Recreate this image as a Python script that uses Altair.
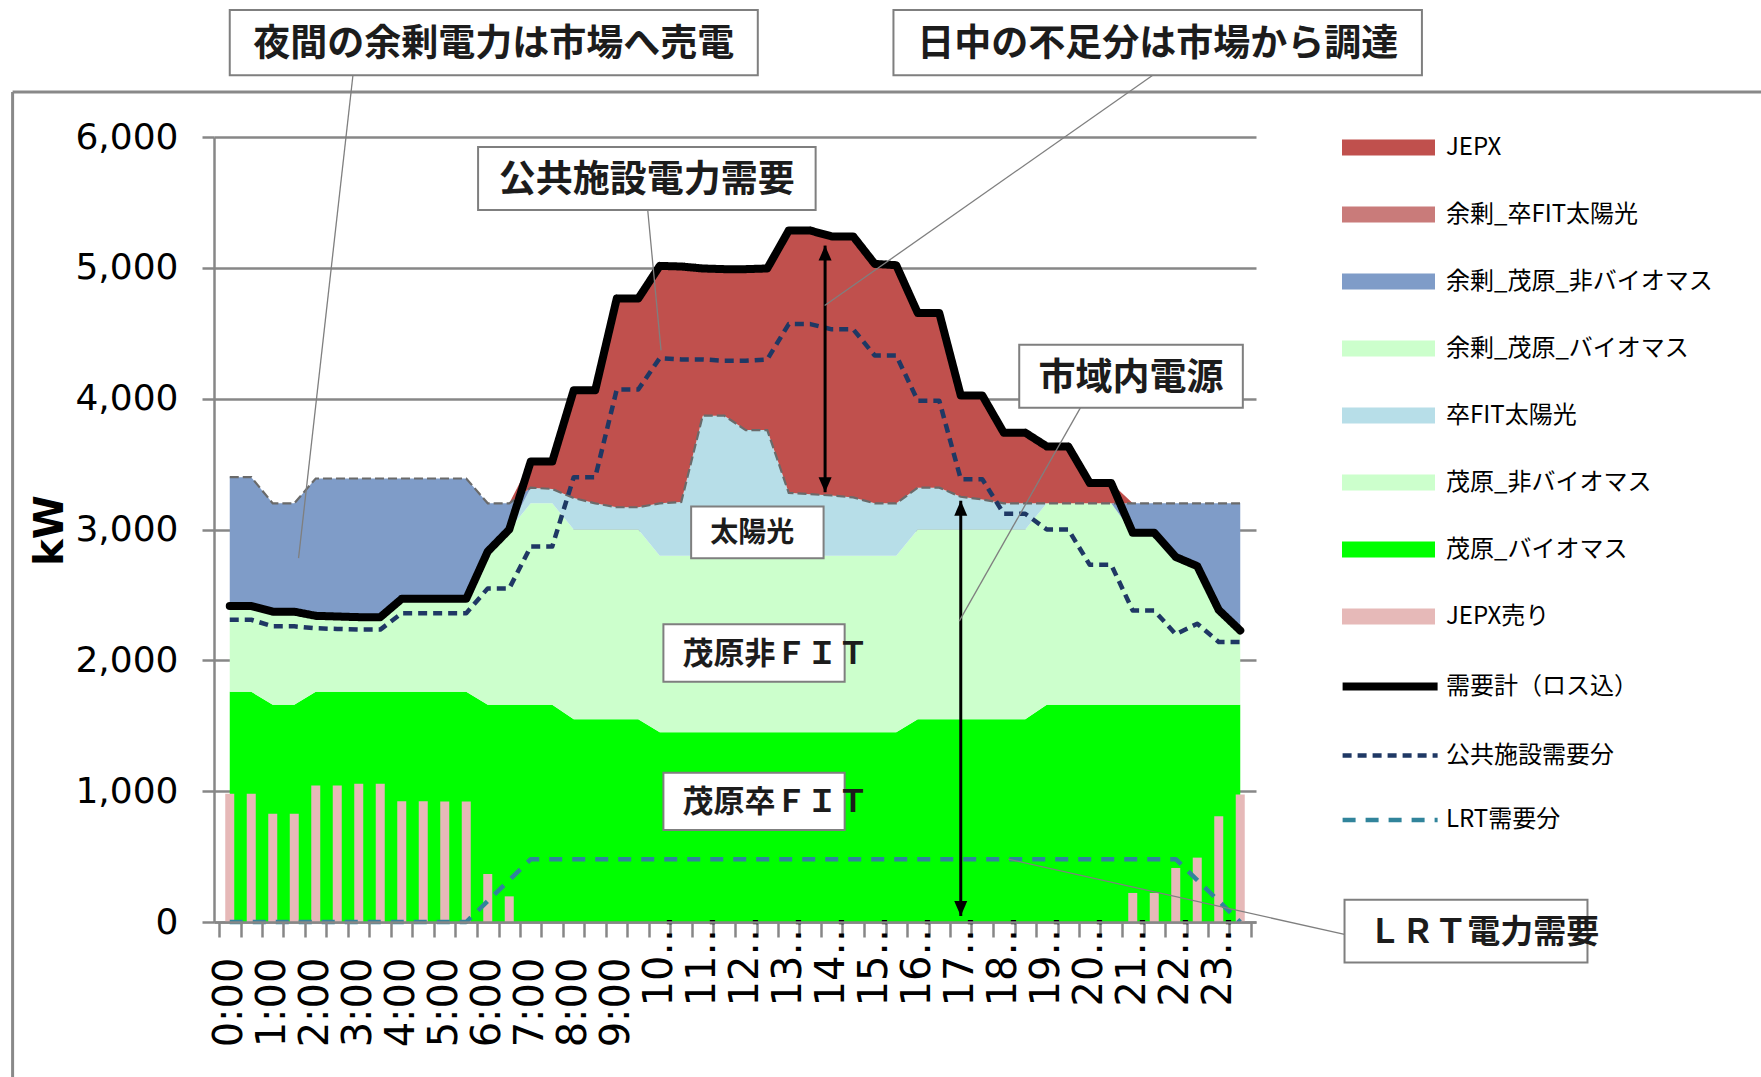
import json
import altair as alt
import pandas as pd

# ---------------- values ----------------
slot_index = list(range(48))  # 30-minute slots 0:00 ... 23:30
hour_labels = ["0:00", "1:00", "2:00", "3:00", "4:00", "5:00", "6:00", "7:00", "8:00", "9:00",
               "10…", "11…", "12…", "13…", "14…", "15…", "16…", "17…", "18…", "19…",
               "20…", "21…", "22…", "23…"]

mobara_bio = [1760, 1760, 1660, 1660, 1760, 1760, 1760, 1760, 1760, 1760, 1760, 1760,
              1660, 1660, 1660, 1660, 1550, 1550, 1550, 1550, 1450, 1450, 1450, 1450,
              1450, 1450, 1450, 1450, 1450, 1450, 1450, 1450, 1550, 1550, 1550, 1550,
              1550, 1550, 1660, 1660, 1660, 1660, 1660, 1660, 1660, 1660, 1660, 1660]
mobara_nonbio = [655, 655, 712, 712, 580, 575, 570, 570, 710, 710, 710, 710,
                 1172, 1340, 1540, 1540, 1450, 1450, 1450, 1450, 1350, 1350, 1350, 1350,
                 1350, 1350, 1350, 1350, 1350, 1350, 1350, 1350, 1450, 1450, 1450, 1450,
                 1450, 1450, 1540, 1540, 1540, 1540, 1315, 1315, 1130, 1060, 725, 568]
sotsu_fit_solar = [0, 0, 0, 0, 0, 0, 0, 0, 0, 0, 0, 0,
                   0, 0, 120, 110, 240, 200, 170, 170, 400, 410, 1070, 1070,
                   960, 960, 480, 470, 460, 445, 400, 400, 320, 320, 250, 230,
                   200, 200, 0, 0, 0, 0, 0, 0, 0, 0, 0, 0]
surplus_mobara_bio = [0, 0, 0, 0, 0, 0, 0, 0, 0, 0, 0, 0,
                      0, 0, 0, 0, 0, 0, 0, 0, 0, 0, 0, 0,
                      0, 0, 0, 0, 0, 0, 0, 0, 0, 0, 0, 0,
                      0, 0, 0, 0, 0, 0, 0, 0, 0, 0, 0, 0]
surplus_mobara_nonbio = [985, 985, 828, 828, 1050, 1055, 1060, 1060, 920, 920, 920, 920,
                         368, 200, 0, 0, 0, 0, 0, 0, 0, 0, 0, 0,
                         0, 0, 0, 0, 0, 0, 0, 0, 0, 0, 0, 0,
                         0, 0, 0, 0, 0, 0, 225, 225, 410, 480, 815, 972]
surplus_sotsu_solar = [0, 0, 0, 0, 0, 0, 0, 0, 0, 0, 0, 0,
                       0, 0, 0, 0, 0, 0, 0, 0, 0, 0, 0, 0,
                       0, 0, 0, 0, 0, 0, 0, 0, 0, 0, 0, 0,
                       0, 0, 0, 0, 0, 0, 0, 0, 0, 0, 0, 0]
jepx_buy = [0, 0, 0, 0, 0, 0, 0, 0, 0, 0, 0, 0,
            0, 0, 200, 210, 825, 865, 1595, 1595, 1815, 1800, 1125, 1120,
            1230, 1235, 2005, 2015, 1980, 1995, 1830, 1820, 1335, 1335, 775, 795,
            540, 540, 435, 435, 155, 155, 0, 0, 0, 0, 0, 0]
jepx_sell = [980, 980, 827, 827, 1043, 1043, 1056, 1056, 922, 922, 921, 921,
             367, 196, 0, 0, 0, 0, 0, 0, 0, 0, 0, 0,
             0, 0, 0, 0, 0, 0, 0, 0, 0, 0, 0, 0,
             0, 0, 0, 0, 0, 0, 222, 222, 413, 492, 809, 974]
demand_total = [2415, 2415, 2372, 2372, 2340, 2335, 2330, 2330, 2470, 2470, 2470, 2470,
                2832, 3000, 3520, 3520, 4065, 4065, 4765, 4765, 5015, 5010, 4995, 4990,
                4990, 4995, 5285, 5285, 5240, 5240, 5030, 5020, 4655, 4655, 4025, 4025,
                3740, 3740, 3635, 3635, 3355, 3355, 2975, 2975, 2790, 2720, 2385, 2228]
public_demand = [2310, 2310, 2260, 2260, 2245, 2240, 2235, 2235, 2360, 2360, 2360, 2360,
                 2550, 2550, 2870, 2870, 3400, 3400, 4070, 4070, 4310, 4300, 4300, 4290,
                 4290, 4300, 4570, 4570, 4530, 4530, 4330, 4330, 3985, 3985, 3385, 3385,
                 3120, 3120, 3000, 3000, 2730, 2730, 2380, 2380, 2200, 2280, 2140, 2140]
lrt_demand = [0, 0, 0, 0, 0, 0, 0, 0, 0, 0, 0, 0,
              160, 320, 480, 480, 480, 480, 480, 480, 480, 480, 480, 480,
              480, 480, 480, 480, 480, 480, 480, 480, 480, 480, 480, 480,
              480, 480, 480, 480, 480, 480, 480, 480, 480, 320, 160, 0]

# stacking order (bottom -> top)
stack_series = ["茂原_バイオマス", "茂原_非バイオマス", "卒FIT太陽光", "余剰_茂原_バイオマス",
                "余剰_茂原_非バイオマス", "余剰_卒FIT太陽光", "JEPX"]
stack_values = [mobara_bio, mobara_nonbio, sotsu_fit_solar, surplus_mobara_bio,
                surplus_mobara_nonbio, surplus_sotsu_solar, jepx_buy]

fill_legend_names = ["JEPX", "余剰_卒FIT太陽光", "余剰_茂原_非バイオマス", "余剰_茂原_バイオマス",
                     "卒FIT太陽光", "茂原_非バイオマス", "茂原_バイオマス", "JEPX売り"]
fill_colors = ["#C0504D", "#C97B7A", "#7F9CC8", "#CCFFCC", "#B7DEE8", "#CCFFCC", "#00FF00", "#E6B9B8"]

line_names = ["需要計（ロス込）", "公共施設需要分", "LRT需要分"]
line_values = [demand_total, public_demand, lrt_demand]
line_colors = ["#000000", "#1F3864", "#31849B"]
line_dashes = [[1, 0], [9, 6], [13, 10]]
line_widths = [8, 4.5, 4.5]

# annotation boxes: text, x-left, x-right (slot units), y-top, y-bottom (kW)
boxes = [
    ("夜間の余剰電力は市場へ売電", 0.0, 24.56, 6970, 6472),
    ("日中の不足分は市場から調達", 30.87, 55.45, 6970, 6472),
    ("公共施設電力需要", 11.55, 27.25, 5923, 5442),
    ("市域内電源", 36.72, 47.12, 4412, 3931),
    ("太陽光", 21.46, 27.62, 3176, 2781),
    ("茂原非ＦＩＴ", 20.17, 28.60, 2275, 1837),
    ("茂原卒ＦＩＴ", 20.17, 28.60, 1141, 703),
    ("ＬＲＴ電力需要", 51.85, 63.15, 171, -310),
]
# text anchors: text, x, y, font size
texts_center = [
    ("夜間の余剰電力は市場へ売電", 12.28, 6700, 37),
    ("日中の不足分は市場から調達", 43.16, 6700, 37),
    ("公共施設電力需要", 19.40, 5664, 37),
    ("市域内電源", 41.92, 4153, 37),
    ("太陽光", 24.30, 2962, 28),
]
texts_left = [
    ("茂原非ＦＩＴ", 21.06, 2040, 31),
    ("茂原卒ＦＩＴ", 21.06, 906, 31),
    ("ＬＲＴ電力需要", 52.95, -86, 33),
]
# callout lines: x0, y0 -> x1, y1
callouts = [
    (5.73, 6472, 3.20, 2781),
    (42.93, 6472, 27.67, 4712),
    (19.44, 5442, 20.06, 4369),
    (39.57, 3931, 33.93, 2300),
    (51.85, -95, 36.21, 480),
]
# double-headed arrows: x, y-top, y-bottom
arrows = [
    (27.69, 5170, 3285),
    (34.0, 3220, 45),
]
# outer chart-area frame
frame = [
    (-10.1, 6344, 75.0, 6344),
    (-10.1, 6344, -10.1, -1500),
]

# ---------------- tables ----------------
area_df = pd.DataFrame([
    {"i": i, "series": name, "value": v, "ord": k}
    for k, (name, vals) in enumerate(zip(stack_series, stack_values))
    for i, v in zip(slot_index, vals)
])
bar_df = pd.DataFrame({"i": slot_index, "series": "JEPX売り", "value": jepx_sell})
line_df = pd.DataFrame([
    {"i": i, "line": name, "value": v}
    for name, vals in zip(line_names, line_values)
    for i, v in zip(slot_index, vals)
])
box_df = pd.DataFrame(boxes, columns=["text", "x0", "x1", "y0", "y1"])
tc_df = pd.DataFrame(texts_center, columns=["text", "x", "y", "fs"])
tl_df = pd.DataFrame(texts_left, columns=["text", "x", "y", "fs"])
call_df = pd.DataFrame(callouts, columns=["x0", "y0", "x1", "y1"])
arrow_df = pd.DataFrame(arrows, columns=["x", "yt", "yb"])
frame_df = pd.DataFrame(frame, columns=["x0", "y0", "x1", "y1"])

# ---------------- scales / axes ----------------
GRID = "#878787"
xs = alt.Scale(domain=[-0.5, 47.5], nice=False, zero=False)
ys = alt.Scale(domain=[0, 6000], nice=False, zero=False)

label_js = json.dumps(hour_labels, ensure_ascii=False)
xaxis = alt.Axis(
    values=[k - 0.5 for k in range(49)], title=None, grid=False,
    domainColor=GRID, domainWidth=2.5, tickColor=GRID, tickWidth=2.5, tickSize=15,
    labelExpr=f"(datum.value + 0.5) % 2 == 0 && datum.value < 47 ? {label_js}[(datum.value + 0.5) / 2] : ''",
    labelAngle=270, labelAlign="right", labelBaseline="middle",
    labelFont="DejaVu Sans", labelFontSize=40, labelColor="black",
    labelOffset=10.85, labelPadding={"condition": {"test": "datum.value > 19", "value": -22}, "value": 20},
    labelOverlap=False, labelFlush=False, labelBound=False, zindex=1,
)
yaxis = alt.Axis(
    values=[0, 1000, 2000, 3000, 4000, 5000, 6000], format=",.0f",
    grid=True, gridColor=GRID, gridWidth=2.5,
    domainColor=GRID, domainWidth=2.5, tickColor=GRID, tickWidth=2.5, tickSize=12,
    labelFont="DejaVu Sans", labelFontSize=36, labelColor="black", labelPadding=24,
    title="kW", titleFont="DejaVu Sans", titleFontSize=40, titleFontWeight="bold",
    titleColor="black", titleAngle=270, titleX=-164, titleY=393,
    titleAlign="center", titleBaseline="middle",
)


def X(f):
    return alt.X(f"{f}:Q", scale=xs, axis=xaxis)


def Y(f, **kw):
    return alt.Y(f"{f}:Q", scale=ys, axis=yaxis, **kw)


fill_legend = alt.Legend(
    title=None, orient="none", legendX=1128, legendY=-36, padding=0,
    symbolType="M-1,-0.17L1,-0.17L1,0.17L-1,0.17Z", symbolSize=8649, symbolStrokeWidth=0,
    labelFont="Noto Sans CJK JP", labelFontSize=24, labelColor="black", labelLimit=400,
    labelOffset=11, rowPadding=8,
)
line_legend = alt.Legend(
    title=None, orient="none", legendX=1124.6, legendY=498, padding=0,
    symbolType="stroke", symbolSize=9025,
    labelFont="Noto Sans CJK JP", labelFontSize=24, labelColor="black", labelLimit=400,
    labelOffset=4.3, rowPadding=2.5,
)
color_enc = alt.Color("series:N", scale=alt.Scale(domain=fill_legend_names, range=fill_colors),
                      legend=fill_legend)
stroke_enc = alt.Stroke("line:N", scale=alt.Scale(domain=line_names, range=line_colors), legend=line_legend)
dash_enc = alt.StrokeDash("line:N", scale=alt.Scale(domain=line_names, range=line_dashes), legend=line_legend)
width_enc = alt.StrokeWidth("line:N", scale=alt.Scale(type="ordinal", domain=line_names, range=line_widths),
                            legend=line_legend)

# ---------------- layers ----------------
frame_layer = alt.Chart(frame_df).mark_rule(color="#898989", strokeWidth=3).encode(
    x=X("x0"), x2=alt.X2("x1"), y=Y("y0"), y2=alt.Y2("y1"))

areas = alt.Chart(area_df).mark_area(interpolate="linear").encode(
    x=X("i"), y=Y("value", stack="zero"), color=color_enc, order=alt.Order("ord:Q"))

bars = alt.Chart(bar_df).transform_filter("datum.value > 0").mark_bar(size=9).encode(
    x=X("i"), y=Y("value", stack=None), color=color_enc)

gen_top = alt.Chart(area_df).transform_filter(
    alt.FieldOneOfPredicate(field="series", oneOf=stack_series[:-1])
).transform_aggregate(gen="sum(value)", groupby=["i"]).mark_line(
    color="#6A6A6A", strokeWidth=2.2, strokeDash=[9, 4]).encode(x=X("i"), y=Y("gen"))


def line_layer(name, cap):
    return alt.Chart(line_df).transform_filter(alt.datum.line == name).mark_line(
        strokeCap=cap, strokeJoin="round").encode(
        x=X("i"), y=Y("value"), stroke=stroke_enc, strokeDash=dash_enc, strokeWidth=width_enc)


lrt_line = line_layer("LRT需要分", "butt")
pub_line = line_layer("公共施設需要分", "butt")
dem_line = line_layer("需要計（ロス込）", "round")

arrow_lines = alt.Chart(arrow_df).mark_rule(color="black", strokeWidth=3).encode(
    x=X("x"), y=Y("yt"), y2=alt.Y2("yb"))
arrow_up = alt.Chart(arrow_df).mark_point(
    shape="M0,0L0.87,2L-0.87,2Z", size=225, filled=True, color="black", opacity=1, strokeWidth=0
).encode(x=X("x"), y=Y("yt"))
arrow_down = alt.Chart(arrow_df).mark_point(
    shape="M0,0L0.87,-2L-0.87,-2Z", size=225, filled=True, color="black", opacity=1, strokeWidth=0
).encode(x=X("x"), y=Y("yb"))

call_layer = alt.Chart(call_df).mark_rule(color="#7F7F7F", strokeWidth=1.3).encode(
    x=X("x0"), x2=alt.X2("x1"), y=Y("y0"), y2=alt.Y2("y1"))

box_layer = alt.Chart(box_df).mark_rect(fill="white", stroke="#7F7F7F", strokeWidth=2).encode(
    x=X("x0"), x2=alt.X2("x1"), y=Y("y0"), y2=alt.Y2("y1"))

text_c = alt.Chart(tc_df).mark_text(
    font="Noto Sans CJK JP", fontWeight="bold", align="center", baseline="middle", color="#1C1C1C"
).encode(x=X("x"), y=Y("y"), text="text:N", size=alt.Size("fs:Q", scale=None, legend=None))
text_l = alt.Chart(tl_df).mark_text(
    font="Noto Sans CJK JP", fontWeight="bold", align="left", baseline="middle", color="#1C1C1C"
).encode(x=X("x"), y=Y("y"), text="text:N", size=alt.Size("fs:Q", scale=None, legend=None))

chart = alt.layer(
    frame_layer, areas, bars, gen_top, lrt_line, pub_line, dem_line,
    arrow_lines, arrow_up, arrow_down, call_layer, box_layer, text_c, text_l,
).properties(
    width=1042, height=785,
    padding={"left": 214, "top": 137, "right": 505, "bottom": 155},
    autosize=alt.AutoSizeParams(type="none"),
    background="white",
).configure_view(strokeWidth=0)

chart.save("out.html", embed_options={"renderer": "svg", "actions": False})
